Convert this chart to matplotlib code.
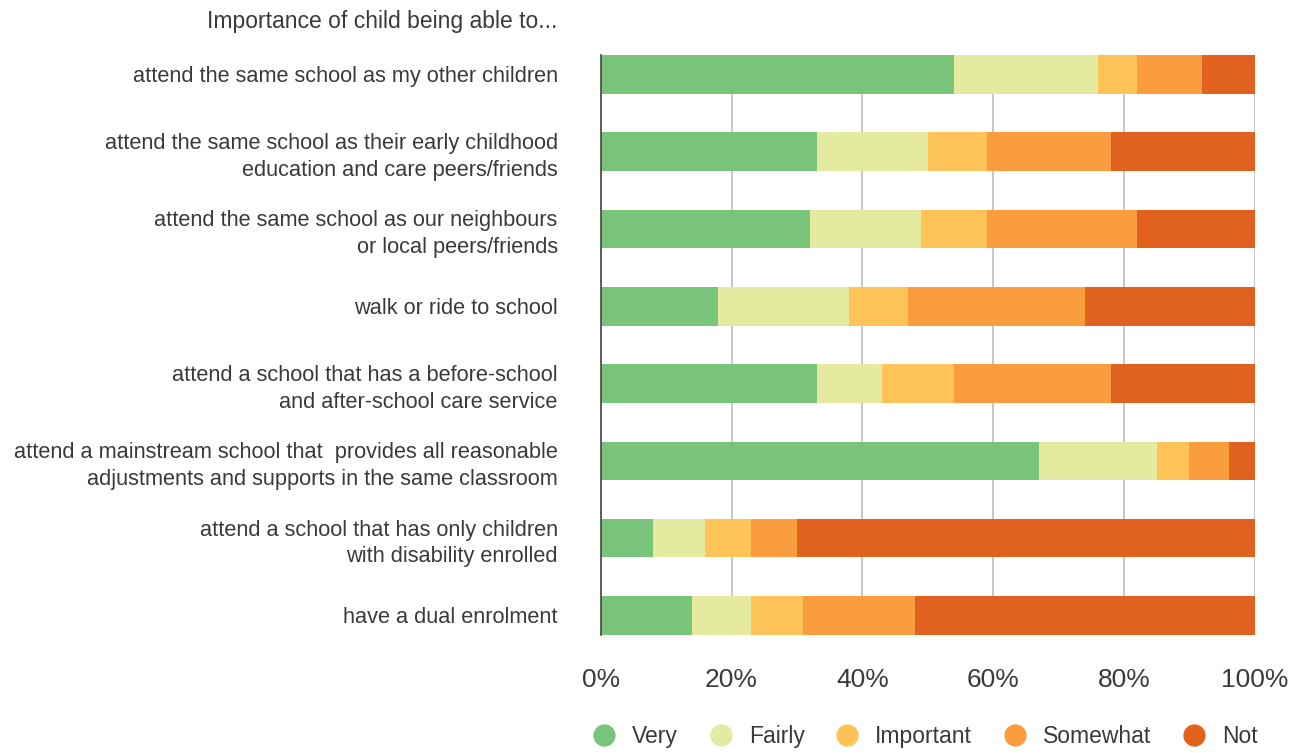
import matplotlib.pyplot as plt
from matplotlib.lines import Line2D

plt.rcParams['font.family'] = ['Liberation Sans', 'DejaVu Sans']

categories = [
    "attend the same school as my other children",
    "attend the same school as their early childhood\neducation and care peers/friends",
    "attend the same school as our neighbours\nor local peers/friends",
    "walk or ride to school",
    "attend a school that has a before-school\nand after-school care service",
    "attend a mainstream school that  provides all reasonable\nadjustments and supports in the same classroom",
    "attend a school that has only children\nwith disability enrolled",
    "have a dual enrolment",
]
levels = ["Very", "Fairly", "Important", "Somewhat", "Not"]
very = [54, 33, 32, 18, 33, 67, 8, 14]
fairly = [22, 17, 17, 20, 10, 18, 8, 9]
important = [6, 9, 10, 9, 11, 5, 7, 8]
somewhat = [10, 19, 23, 27, 24, 6, 7, 17]
not_imp = [8, 22, 18, 26, 22, 4, 70, 52]
series = [very, fairly, important, somewhat, not_imp]
colors = ["#77C47A", "#E4EAA0", "#FDC358", "#F99D3E", "#E1621F"]

text_color = "#3a3a3a"

fig = plt.figure(figsize=(13.03, 7.53), dpi=100)
ax = fig.add_axes([0.461, 0.157, 0.502, 0.770])

ypos = list(range(len(categories)))
left = [0] * len(categories)
for vals, col, name in zip(series, colors, levels):
    ax.barh(ypos, vals, left=left, height=0.5, color=col, label=name, zorder=2)
    left = [a + b for a, b in zip(left, vals)]

ax.set_xlim(0, 100)
ax.set_ylim(len(categories) - 0.75, -0.25)
ax.set_xticks([0, 20, 40, 60, 80, 100])
ax.set_xticklabels(["0%", "20%", "40%", "60%", "80%", "100%"])
ax.set_yticks(ypos)
ax.set_yticklabels(categories, ha="right", multialignment="right",
                   linespacing=1.35)

ax.grid(axis="x", color="#BDBDBD", linewidth=1.2, zorder=0)
for s in ["top", "right", "bottom"]:
    ax.spines[s].set_visible(False)
ax.spines["left"].set_color("#444444")
ax.spines["left"].set_linewidth(1.2)
ax.spines["left"].set_zorder(3)

ax.tick_params(axis="y", length=0, pad=31, labelsize=15.7, labelcolor=text_color)
ax.tick_params(axis="x", length=0, pad=24, labelsize=19, labelcolor=text_color)

fig.text(0.428, 0.972, "Importance of child being able to...", ha="right",
         va="center", fontsize=16.5, color=text_color)

handles = [Line2D([0], [0], marker="o", linestyle="", markersize=15,
                  markerfacecolor=c, markeredgecolor=c) for c in colors]
fig.legend(handles, levels, loc="center", bbox_to_anchor=(0.71, 0.022),
           ncol=5, frameon=False, fontsize=16.5, labelcolor=text_color,
           handlelength=1.0, handletextpad=0.72, columnspacing=1.37)

fig.savefig("out.png", dpi=100, facecolor="white")
